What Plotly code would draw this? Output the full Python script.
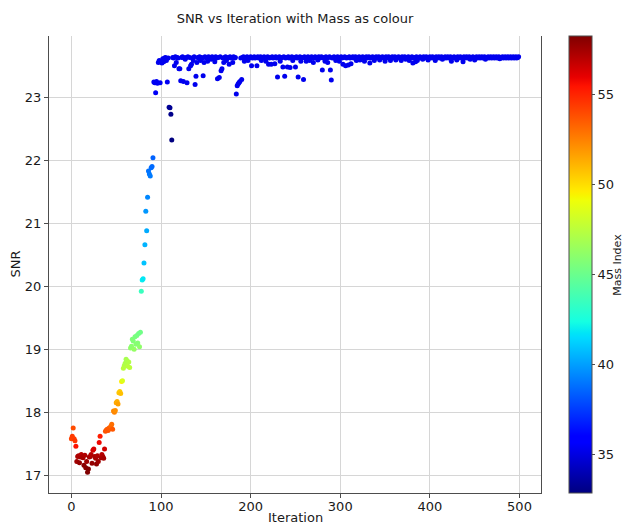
import numpy as np
import plotly.graph_objects as go

# SNR reached at each optimisation iteration (0-499)
snr = [
    # 0-9
    17.58, 17.62, 17.75, 17.58, 17.55, 17.46, 17.22, 17.30, 17.31, 17.20,
    # 10-19
    17.29, 17.33, 17.30, 17.28, 17.16, 17.32, 17.12, 17.22, 17.05, 17.10,
    # 20-29
    17.29, 17.30, 17.33, 17.19, 17.40, 17.42, 17.30, 17.27, 17.18, 17.31,
    # 30-39
    17.22, 17.52, 17.62, 17.28, 17.33, 17.30, 17.27, 17.42, 17.70, 17.72,
    # 40-49
    17.73, 17.71, 17.75, 17.74, 17.78, 17.81, 17.73, 18.02, 18.00, 18.03,
    # 50-59
    18.15, 18.17, 18.13, 18.31, 18.33, 18.30, 18.49, 18.50, 18.70, 18.74,
    # 60-69
    18.78, 18.84, 18.82, 18.73, 18.80, 18.71, 19.02, 19.05, 19.16, 19.13,
    # 70-79
    19.00, 19.20, 19.08, 19.22, 19.10, 19.25, 19.04, 19.27, 19.92, 20.10,
    # 80-89
    20.12, 20.37, 20.66, 21.19, 20.88, 21.41, 21.83, 21.78, 21.75, 21.88,
    # 90-99
    21.90, 22.04, 23.24, 23.23, 23.07, 23.25, 23.22, 23.55, 23.58, 23.23,
    # 100-109
    23.57, 23.54, 23.61, 23.56, 23.62, 23.63, 23.58, 23.24, 23.62, 22.84,
    # 110-119
    22.83, 22.73, 22.32, 23.63, 23.62, 23.50, 23.64, 23.55, 23.63, 23.62,
    # 120-129
    23.45, 23.45, 23.26, 23.63, 23.64, 23.25, 23.62, 23.60, 23.63, 23.23,
    # 130-139
    23.64, 23.45, 23.63, 23.50, 23.52, 23.62, 23.58, 23.64, 23.20, 23.33,
    # 140-149
    23.55, 23.63, 23.62, 23.64, 23.58, 23.63, 23.62, 23.34, 23.55, 23.64,
    # 150-159
    23.63, 23.62, 23.57, 23.64, 23.63, 23.62, 23.60, 23.64, 23.63, 23.61,
    # 160-169
    23.56, 23.64, 23.62, 23.29, 23.63, 23.31, 23.64, 23.42, 23.45, 23.62,
    # 170-179
    23.55, 23.63, 23.64, 23.58, 23.62, 23.63, 23.52, 23.64, 23.62, 23.63,
    # 180-189
    23.55, 23.64, 23.62, 23.63, 23.05, 23.18, 23.21, 23.23, 23.25, 23.62,
    # 190-199
    23.28, 23.63, 23.64, 23.57, 23.62, 23.63, 23.64, 23.58, 23.62, 23.63,
    # 200-209
    23.64, 23.50, 23.62, 23.63, 23.64, 23.62, 23.63, 23.50, 23.64, 23.62,
    # 210-219
    23.63, 23.64, 23.58, 23.62, 23.63, 23.64, 23.62, 23.57, 23.63, 23.64,
    # 220-229
    23.52, 23.62, 23.63, 23.52, 23.64, 23.62, 23.63, 23.53, 23.64, 23.62,
    # 230-239
    23.32, 23.63, 23.64, 23.57, 23.62, 23.63, 23.48, 23.64, 23.33, 23.62,
    # 240-249
    23.63, 23.48, 23.64, 23.62, 23.47, 23.63, 23.64, 23.58, 23.62, 23.63,
    # 250-259
    23.48, 23.64, 23.62, 23.32, 23.63, 23.64, 23.57, 23.62, 23.63, 23.28,
    # 260-269
    23.64, 23.62, 23.57, 23.63, 23.64, 23.62, 23.58, 23.63, 23.64, 23.62,
    # 270-279
    23.55, 23.63, 23.64, 23.62, 23.63, 23.59, 23.64, 23.62, 23.63, 23.64,
    # 280-289
    23.43, 23.62, 23.63, 23.57, 23.64, 23.62, 23.55, 23.63, 23.64, 23.43,
    # 290-299
    23.27, 23.62, 23.63, 23.64, 23.62, 23.58, 23.63, 23.64, 23.62, 23.57,
    # 300-309
    23.63, 23.64, 23.62, 23.52, 23.63, 23.64, 23.50, 23.62, 23.63, 23.51,
    # 310-319
    23.64, 23.62, 23.53, 23.63, 23.64, 23.62, 23.63, 23.64, 23.58, 23.62,
    # 320-329
    23.63, 23.64, 23.59, 23.62, 23.63, 23.64, 23.62, 23.57, 23.63, 23.64,
    # 330-339
    23.62, 23.63, 23.64, 23.54, 23.62, 23.63, 23.64, 23.62, 23.58, 23.63,
    # 340-349
    23.64, 23.62, 23.63, 23.64, 23.59, 23.62, 23.63, 23.64, 23.62, 23.63,
    # 350-359
    23.57, 23.64, 23.62, 23.63, 23.64, 23.62, 23.58, 23.63, 23.64, 23.62,
    # 360-369
    23.63, 23.64, 23.59, 23.62, 23.63, 23.64, 23.62, 23.63, 23.58, 23.64,
    # 370-379
    23.62, 23.63, 23.64, 23.60, 23.62, 23.63, 23.64, 23.58, 23.62, 23.63,
    # 380-389
    23.64, 23.54, 23.62, 23.63, 23.56, 23.64, 23.58, 23.62, 23.63, 23.64,
    # 390-399
    23.62, 23.63, 23.60, 23.64, 23.62, 23.63, 23.64, 23.62, 23.59, 23.63,
    # 400-409
    23.64, 23.62, 23.63, 23.64, 23.62, 23.63, 23.58, 23.64, 23.62, 23.63,
    # 410-419
    23.64, 23.62, 23.63, 23.64, 23.60, 23.62, 23.63, 23.64, 23.62, 23.63,
    # 420-429
    23.64, 23.62, 23.63, 23.64, 23.57, 23.62, 23.63, 23.64, 23.62, 23.63,
    # 430-439
    23.59, 23.64, 23.62, 23.63, 23.64, 23.62, 23.63, 23.56, 23.64, 23.62,
    # 440-449
    23.63, 23.64, 23.62, 23.63, 23.64, 23.60, 23.62, 23.63, 23.64, 23.62,
    # 450-459
    23.59, 23.63, 23.64, 23.62, 23.63, 23.64, 23.62, 23.63, 23.64, 23.62,
    # 460-469
    23.63, 23.64, 23.60, 23.62, 23.63, 23.64, 23.62, 23.63, 23.64, 23.62,
    # 470-479
    23.63, 23.64, 23.62, 23.63, 23.64, 23.62, 23.63, 23.64, 23.61, 23.62,
    # 480-489
    23.63, 23.64, 23.62, 23.63, 23.64, 23.62, 23.63, 23.64, 23.62, 23.63,
    # 490-499
    23.64, 23.62, 23.63, 23.64, 23.62, 23.63, 23.64, 23.62, 23.63, 23.64,
]

# Mass index at each iteration (drives the marker colour)
mass = [
    # 0-9
    54.2, 54.4, 53.9, 54.3, 54.5, 55.5, 57.5, 57.3, 57.2, 57.8,
    # 10-19
    57.4, 57.0, 57.3, 57.4, 58.0, 57.2, 58.1, 57.6, 58.23, 58.2,
    # 20-29
    57.4, 57.3, 57.1, 57.8, 56.4, 56.3, 57.3, 57.4, 57.9, 57.2,
    # 30-39
    57.6, 55.8, 55.2, 57.4, 57.0, 57.2, 57.4, 56.5, 53.8, 53.6,
    # 40-49
    53.5, 53.7, 53.4, 53.5, 53.2, 53.0, 53.6, 52.3, 52.4, 52.1,
    # 50-59
    51.5, 51.3, 51.6, 50.7, 50.5, 50.8, 49.6, 48.5, 47.4, 47.3,
    # 60-69
    47.1, 46.9, 47.0, 47.4, 47.2, 47.5, 46.2, 46.0, 45.6, 45.7,
    # 70-79
    46.3, 45.5, 45.9, 45.4, 45.8, 45.3, 46.1, 45.2, 43.5, 42.0,
    # 80-89
    41.8, 40.9, 40.5, 39.8, 40.3, 39.4, 38.9, 39.0, 39.1, 38.8,
    # 90-99
    38.7, 38.5, 35.4, 35.4, 35.5, 35.4, 35.4, 35.3, 35.3, 35.4,
    # 100-109
    35.3, 35.3, 35.3, 35.3, 35.3, 35.3, 35.3, 35.4, 35.3, 33.4,
    # 110-119
    33.3, 33.1, 32.88, 35.3, 35.3, 35.3, 35.3, 35.3, 35.3, 35.3,
    # 120-129
    35.3, 35.3, 35.3, 35.3, 35.3, 35.3, 35.3, 35.3, 35.3, 35.3,
    # 130-139
    35.3, 35.3, 35.3, 35.3, 35.3, 35.3, 35.3, 35.3, 35.3, 35.3,
    # 140-149
    35.3, 35.3, 35.3, 35.3, 35.3, 35.3, 35.3, 35.3, 35.3, 35.3,
    # 150-159
    35.3, 35.3, 35.3, 35.3, 35.3, 35.3, 35.3, 35.3, 35.3, 35.3,
    # 160-169
    35.3, 35.3, 35.3, 35.3, 35.3, 35.3, 35.3, 35.3, 35.3, 35.3,
    # 170-179
    35.3, 35.3, 35.3, 35.3, 35.3, 35.3, 35.3, 35.3, 35.3, 35.3,
    # 180-189
    35.3, 35.3, 35.3, 35.3, 35.3, 35.3, 35.3, 35.3, 35.3, 35.3,
    # 190-199
    35.3, 35.3, 35.3, 35.3, 35.3, 35.3, 35.3, 35.3, 35.3, 35.3,
    # 200-209
    35.3, 35.3, 35.3, 35.3, 35.3, 35.3, 35.3, 35.3, 35.3, 35.3,
    # 210-219
    35.3, 35.3, 35.3, 35.3, 35.3, 35.3, 35.3, 35.3, 35.3, 35.3,
    # 220-229
    35.3, 35.3, 35.3, 35.3, 35.3, 35.3, 35.3, 35.3, 35.3, 35.3,
    # 230-239
    35.3, 35.3, 35.3, 35.3, 35.3, 35.3, 35.3, 35.3, 35.3, 35.3,
    # 240-249
    35.3, 35.3, 35.3, 35.3, 35.3, 35.3, 35.3, 35.3, 35.3, 35.3,
    # 250-259
    35.3, 35.3, 35.3, 35.3, 35.3, 35.3, 35.3, 35.3, 35.3, 35.3,
    # 260-269
    35.3, 35.3, 35.3, 35.3, 35.3, 35.3, 35.3, 35.3, 35.3, 35.3,
    # 270-279
    35.3, 35.3, 35.3, 35.3, 35.3, 35.3, 35.3, 35.3, 35.3, 35.3,
    # 280-289
    35.3, 35.3, 35.3, 35.3, 35.3, 35.3, 35.3, 35.3, 35.3, 35.3,
    # 290-299
    35.3, 35.3, 35.3, 35.3, 35.3, 35.3, 35.3, 35.3, 35.3, 35.3,
    # 300-309
    35.3, 35.3, 35.3, 35.3, 35.3, 35.3, 35.3, 35.3, 35.3, 35.3,
    # 310-319
    35.3, 35.3, 35.3, 35.3, 35.3, 35.3, 35.3, 35.3, 35.3, 35.3,
    # 320-329
    35.3, 35.3, 35.3, 35.3, 35.3, 35.3, 35.3, 35.3, 35.3, 35.3,
    # 330-339
    35.3, 35.3, 35.3, 35.3, 35.3, 35.3, 35.3, 35.3, 35.3, 35.3,
    # 340-349
    35.3, 35.3, 35.3, 35.3, 35.3, 35.3, 35.3, 35.3, 35.3, 35.3,
    # 350-359
    35.3, 35.3, 35.3, 35.3, 35.3, 35.3, 35.3, 35.3, 35.3, 35.3,
    # 360-369
    35.3, 35.3, 35.3, 35.3, 35.3, 35.3, 35.3, 35.3, 35.3, 35.3,
    # 370-379
    35.3, 35.3, 35.3, 35.3, 35.3, 35.3, 35.3, 35.3, 35.3, 35.3,
    # 380-389
    35.3, 35.3, 35.3, 35.3, 35.3, 35.3, 35.3, 35.3, 35.3, 35.3,
    # 390-399
    35.3, 35.3, 35.3, 35.3, 35.3, 35.3, 35.3, 35.3, 35.3, 35.3,
    # 400-409
    35.3, 35.3, 35.3, 35.3, 35.3, 35.3, 35.3, 35.3, 35.3, 35.3,
    # 410-419
    35.3, 35.3, 35.3, 35.3, 35.3, 35.3, 35.3, 35.3, 35.3, 35.3,
    # 420-429
    35.3, 35.3, 35.3, 35.3, 35.3, 35.3, 35.3, 35.3, 35.3, 35.3,
    # 430-439
    35.3, 35.3, 35.3, 35.3, 35.3, 35.3, 35.3, 35.3, 35.3, 35.3,
    # 440-449
    35.3, 35.3, 35.3, 35.3, 35.3, 35.3, 35.3, 35.3, 35.3, 35.3,
    # 450-459
    35.3, 35.3, 35.3, 35.3, 35.3, 35.3, 35.3, 35.3, 35.3, 35.3,
    # 460-469
    35.3, 35.3, 35.3, 35.3, 35.3, 35.3, 35.3, 35.3, 35.3, 35.3,
    # 470-479
    35.3, 35.3, 35.3, 35.3, 35.3, 35.3, 35.3, 35.3, 35.3, 35.3,
    # 480-489
    35.3, 35.3, 35.3, 35.3, 35.3, 35.3, 35.3, 35.3, 35.3, 35.3,
    # 490-499
    35.3, 35.3, 35.3, 35.3, 35.3, 35.3, 35.3, 35.3, 35.3, 35.3,
]

iteration = list(range(len(snr)))

x_ticks = [0, 100, 200, 300, 400, 500]
y_ticks = [17, 18, 19, 20, 21, 22, 23]
cbar_ticks = [35, 40, 45, 50, 55]

# Classic "jet" colour map as piecewise-linear RGB segments
_jet = {
    "r": [(0.0, 0.0), (0.35, 0.0), (0.66, 1.0), (0.89, 1.0), (1.0, 0.5)],
    "g": [(0.0, 0.0), (0.125, 0.0), (0.375, 1.0), (0.64, 1.0), (0.91, 0.0), (1.0, 0.0)],
    "b": [(0.0, 0.5), (0.11, 1.0), (0.34, 1.0), (0.65, 0.0), (1.0, 0.0)],
}
_stops = sorted({p for seg in _jet.values() for p, _ in seg})


def _chan(seg, t):
    return float(np.interp(t, [p for p, _ in seg], [v for _, v in seg]))


jet = [
    [t, "rgb({:.0f},{:.0f},{:.0f})".format(*(255 * _chan(_jet[c], t) for c in "rgb"))]
    for t in _stops
]

FONT = "DejaVu Sans"
TXT = "#1a1a1a"
AXC = "#4d4d4d"
GRID = "#d6d6d6"

fig = go.Figure(
    go.Scatter(
        x=iteration,
        y=snr,
        mode="markers",
        marker=dict(
            size=5,
            color=mass,
            colorscale=jet,
            cmin=min(mass),
            cmax=max(mass),
            line=dict(width=0),
            colorbar=dict(
                x=1.057,
                xanchor="left",
                xpad=0,
                ypad=0,
                y=0.5,
                yanchor="middle",
                len=1,
                lenmode="fraction",
                thickness=23,
                outlinewidth=1,
                outlinecolor=AXC,
                ticks="outside",
                ticklen=3,
                tickcolor=AXC,
                tickvals=cbar_ticks,
                tickfont=dict(family=FONT, size=13, color=TXT),
            ),
        ),
        showlegend=False,
    )
)

fig.update_layout(
    width=624,
    height=524,
    margin=dict(l=49, r=83, t=36, b=31, autoexpand=False),
    paper_bgcolor="white",
    plot_bgcolor="white",
    font=dict(family=FONT, color=TXT),
    title=dict(
        text="SNR vs Iteration with Mass as colour",
        x=0.5,
        xref="paper",
        xanchor="center",
        y=1 - 18 / 524,
        yref="container",
        yanchor="middle",
        font=dict(family=FONT, size=13, color=TXT),
    ),
    xaxis=dict(
        range=[-25, 524],
        tickvals=x_ticks,
        showgrid=True,
        gridcolor=GRID,
        gridwidth=1,
        zeroline=False,
        showline=True,
        linecolor=AXC,
        linewidth=1,
        ticks="outside",
        ticklen=4,
        tickcolor=AXC,
        ticklabelstandoff=-3,
        tickfont=dict(family=FONT, size=13, color=TXT),
    ),
    yaxis=dict(
        range=[16.72, 23.97],
        tickvals=y_ticks,
        showgrid=True,
        gridcolor=GRID,
        gridwidth=1,
        zeroline=False,
        showline=True,
        mirror=True,
        linecolor=AXC,
        linewidth=1,
        ticks="outside",
        ticklen=4,
        tickcolor=AXC,
        tickfont=dict(family=FONT, size=13, color=TXT),
    ),
    annotations=[
        dict(text="Iteration", xref="paper", yref="paper", x=0.5, y=-0.0535,
             xanchor="center", yanchor="middle", showarrow=False,
             font=dict(family=FONT, size=13, color=TXT)),
        dict(text="SNR", xref="paper", yref="paper", x=-0.069, y=0.5,
             xanchor="center", yanchor="middle", textangle=-90, showarrow=False,
             font=dict(family=FONT, size=13, color=TXT)),
        # colour bar label, set just right of its tick labels
        dict(text="Mass Index", xref="paper", yref="paper", x=(617.3 - 49) / 492, y=0.5,
             xanchor="center", yanchor="middle", textangle=-90, showarrow=False,
             borderpad=0, font=dict(family=FONT, size=11, color=TXT)),
    ],
)

fig.write_html("out.html")
